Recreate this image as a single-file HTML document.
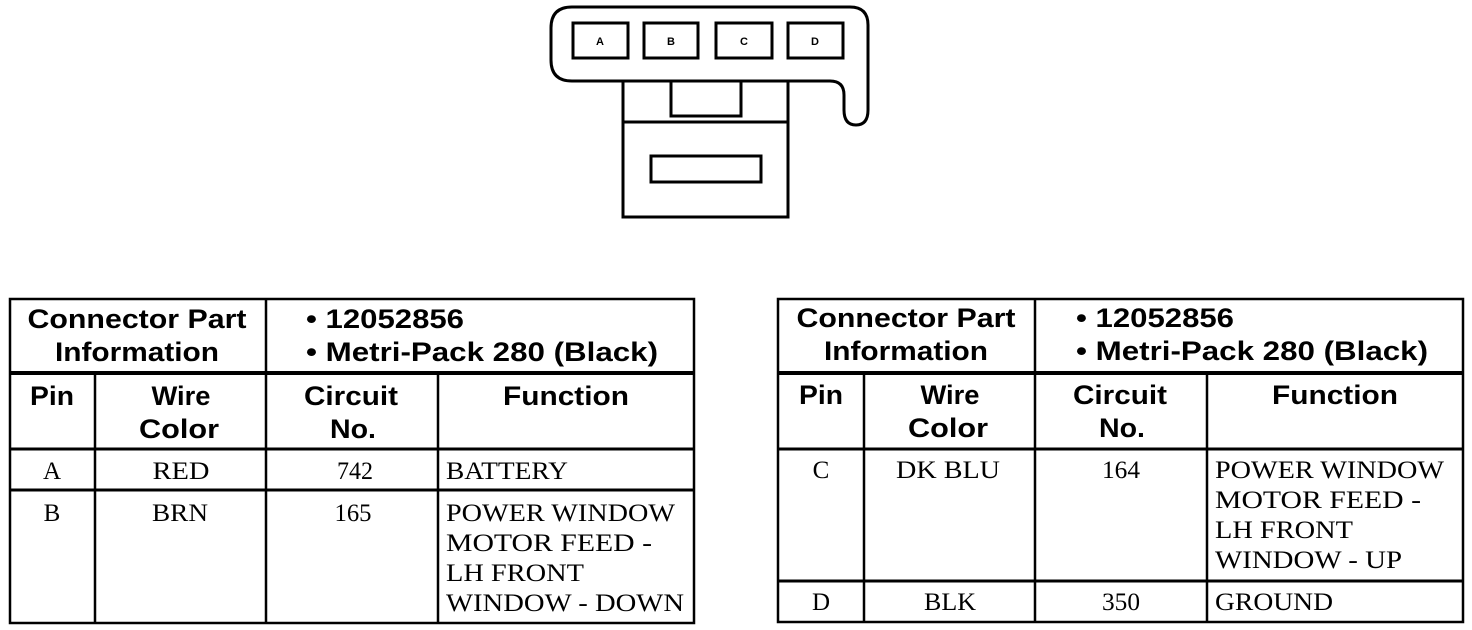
<!DOCTYPE html>
<html><head><style>
html,body{margin:0;padding:0;background:#fff;width:1472px;height:630px;overflow:hidden}
svg text{fill:#000}
.h{font-family:"Liberation Sans",sans-serif;font-weight:bold;font-size:27px}
.s{font-family:"Liberation Serif",serif;font-size:25px}
.p{font-family:"Liberation Sans",sans-serif;font-weight:bold;font-size:11px}
</style></head><body>
<svg width="1472" height="630" viewBox="0 0 1472 630" xmlns="http://www.w3.org/2000/svg">
<g fill="none" stroke="#000" stroke-width="3">
<path d="M572,7 H850 Q868,7 868,25 V110 Q868,125 856,125 Q844,125 844,110 V95 Q844,81 830,81 H572 Q551,81 551,60 V28 Q551,7 572,7 Z"/>
<rect x="573" y="23" width="55" height="35"/>
<rect x="644" y="23" width="54" height="35"/>
<rect x="716" y="23" width="56" height="35"/>
<rect x="788" y="23" width="55" height="35"/>
<path d="M623,81 V217 H788 V81"/>
<path d="M671,81 V116 H741 V81"/>
<line x1="623" y1="122" x2="788" y2="122"/>
<rect x="651" y="156" width="110" height="26"/>
</g>
<text class="p" x="600" y="45" text-anchor="middle">A</text>
<text class="p" x="671" y="45" text-anchor="middle">B</text>
<text class="p" x="744" y="45" text-anchor="middle">C</text>
<text class="p" x="815" y="45" text-anchor="middle">D</text>

<g fill="none" stroke="#000" stroke-width="2.5">
<rect x="10" y="299" width="684" height="324"/>
<line x1="10" y1="373" x2="694" y2="373" stroke-width="4"/>
<line x1="10" y1="449" x2="694" y2="449" stroke-width="3"/>
<line x1="10" y1="490" x2="694" y2="490" stroke-width="3"/>
<line x1="266" y1="299" x2="266" y2="623"/>
<line x1="95" y1="373" x2="95" y2="623"/>
<line x1="438" y1="373" x2="438" y2="623"/>

<rect x="778" y="299" width="685" height="323"/>
<line x1="778" y1="373" x2="1463" y2="373" stroke-width="4"/>
<line x1="778" y1="449" x2="1463" y2="449" stroke-width="3"/>
<line x1="778" y1="581" x2="1463" y2="581" stroke-width="3"/>
<line x1="1035" y1="299" x2="1035" y2="622"/>
<line x1="864" y1="373" x2="864" y2="622"/>
<line x1="1207" y1="373" x2="1207" y2="622"/>
</g>

<g class="h">
<text x="137" y="328" text-anchor="middle" textLength="219" lengthAdjust="spacingAndGlyphs">Connector Part</text>
<text x="137" y="361" text-anchor="middle" textLength="164" lengthAdjust="spacingAndGlyphs">Information</text>
<text x="306" y="328" textLength="158" lengthAdjust="spacingAndGlyphs">• 12052856</text>
<text x="306" y="361" textLength="352" lengthAdjust="spacingAndGlyphs">• Metri-Pack 280 (Black)</text>
<text x="52" y="405" text-anchor="middle" textLength="44" lengthAdjust="spacingAndGlyphs">Pin</text>
<text x="181" y="405" text-anchor="middle" textLength="59" lengthAdjust="spacingAndGlyphs">Wire</text>
<text x="179" y="438" text-anchor="middle" textLength="80" lengthAdjust="spacingAndGlyphs">Color</text>
<text x="351" y="405" text-anchor="middle" textLength="94" lengthAdjust="spacingAndGlyphs">Circuit</text>
<text x="353" y="438" text-anchor="middle" textLength="46" lengthAdjust="spacingAndGlyphs">No.</text>
<text x="566" y="405" text-anchor="middle" textLength="126" lengthAdjust="spacingAndGlyphs">Function</text>

<text x="906" y="327" text-anchor="middle" textLength="219" lengthAdjust="spacingAndGlyphs">Connector Part</text>
<text x="906" y="360" text-anchor="middle" textLength="164" lengthAdjust="spacingAndGlyphs">Information</text>
<text x="1076" y="327" textLength="158" lengthAdjust="spacingAndGlyphs">• 12052856</text>
<text x="1076" y="360" textLength="352" lengthAdjust="spacingAndGlyphs">• Metri-Pack 280 (Black)</text>
<text x="821" y="404" text-anchor="middle" textLength="44" lengthAdjust="spacingAndGlyphs">Pin</text>
<text x="950" y="404" text-anchor="middle" textLength="59" lengthAdjust="spacingAndGlyphs">Wire</text>
<text x="948" y="437" text-anchor="middle" textLength="80" lengthAdjust="spacingAndGlyphs">Color</text>
<text x="1120" y="404" text-anchor="middle" textLength="94" lengthAdjust="spacingAndGlyphs">Circuit</text>
<text x="1122" y="437" text-anchor="middle" textLength="46" lengthAdjust="spacingAndGlyphs">No.</text>
<text x="1335" y="404" text-anchor="middle" textLength="126" lengthAdjust="spacingAndGlyphs">Function</text>
</g>

<g class="s">
<text x="52" y="479" text-anchor="middle">A</text>
<text x="181" y="479" text-anchor="middle" textLength="57" lengthAdjust="spacingAndGlyphs">RED</text>
<text x="355" y="479" text-anchor="middle" textLength="36" lengthAdjust="spacingAndGlyphs">742</text>
<text x="446" y="479" textLength="122" lengthAdjust="spacingAndGlyphs">BATTERY</text>
<text x="52" y="521" text-anchor="middle">B</text>
<text x="180" y="521" text-anchor="middle" textLength="56" lengthAdjust="spacingAndGlyphs">BRN</text>
<text x="353" y="521" text-anchor="middle" textLength="37" lengthAdjust="spacingAndGlyphs">165</text>
<text x="446" y="521" textLength="229" lengthAdjust="spacingAndGlyphs">POWER WINDOW</text>
<text x="446" y="551" textLength="206" lengthAdjust="spacingAndGlyphs">MOTOR FEED -</text>
<text x="446" y="581" textLength="138" lengthAdjust="spacingAndGlyphs">LH FRONT</text>
<text x="446" y="611" textLength="238" lengthAdjust="spacingAndGlyphs">WINDOW - DOWN</text>

<text x="821" y="478" text-anchor="middle">C</text>
<text x="948" y="478" text-anchor="middle" textLength="104" lengthAdjust="spacingAndGlyphs">DK BLU</text>
<text x="1121" y="478" text-anchor="middle" textLength="38" lengthAdjust="spacingAndGlyphs">164</text>
<text x="1215" y="478" textLength="229" lengthAdjust="spacingAndGlyphs">POWER WINDOW</text>
<text x="1215" y="508" textLength="206" lengthAdjust="spacingAndGlyphs">MOTOR FEED -</text>
<text x="1215" y="538" textLength="138" lengthAdjust="spacingAndGlyphs">LH FRONT</text>
<text x="1215" y="568" textLength="187" lengthAdjust="spacingAndGlyphs">WINDOW - UP</text>
<text x="821" y="610" text-anchor="middle">D</text>
<text x="950" y="610" text-anchor="middle" textLength="52" lengthAdjust="spacingAndGlyphs">BLK</text>
<text x="1121" y="610" text-anchor="middle" textLength="38" lengthAdjust="spacingAndGlyphs">350</text>
<text x="1215" y="610" textLength="118" lengthAdjust="spacingAndGlyphs">GROUND</text>
</g>
</svg>
</body></html>
